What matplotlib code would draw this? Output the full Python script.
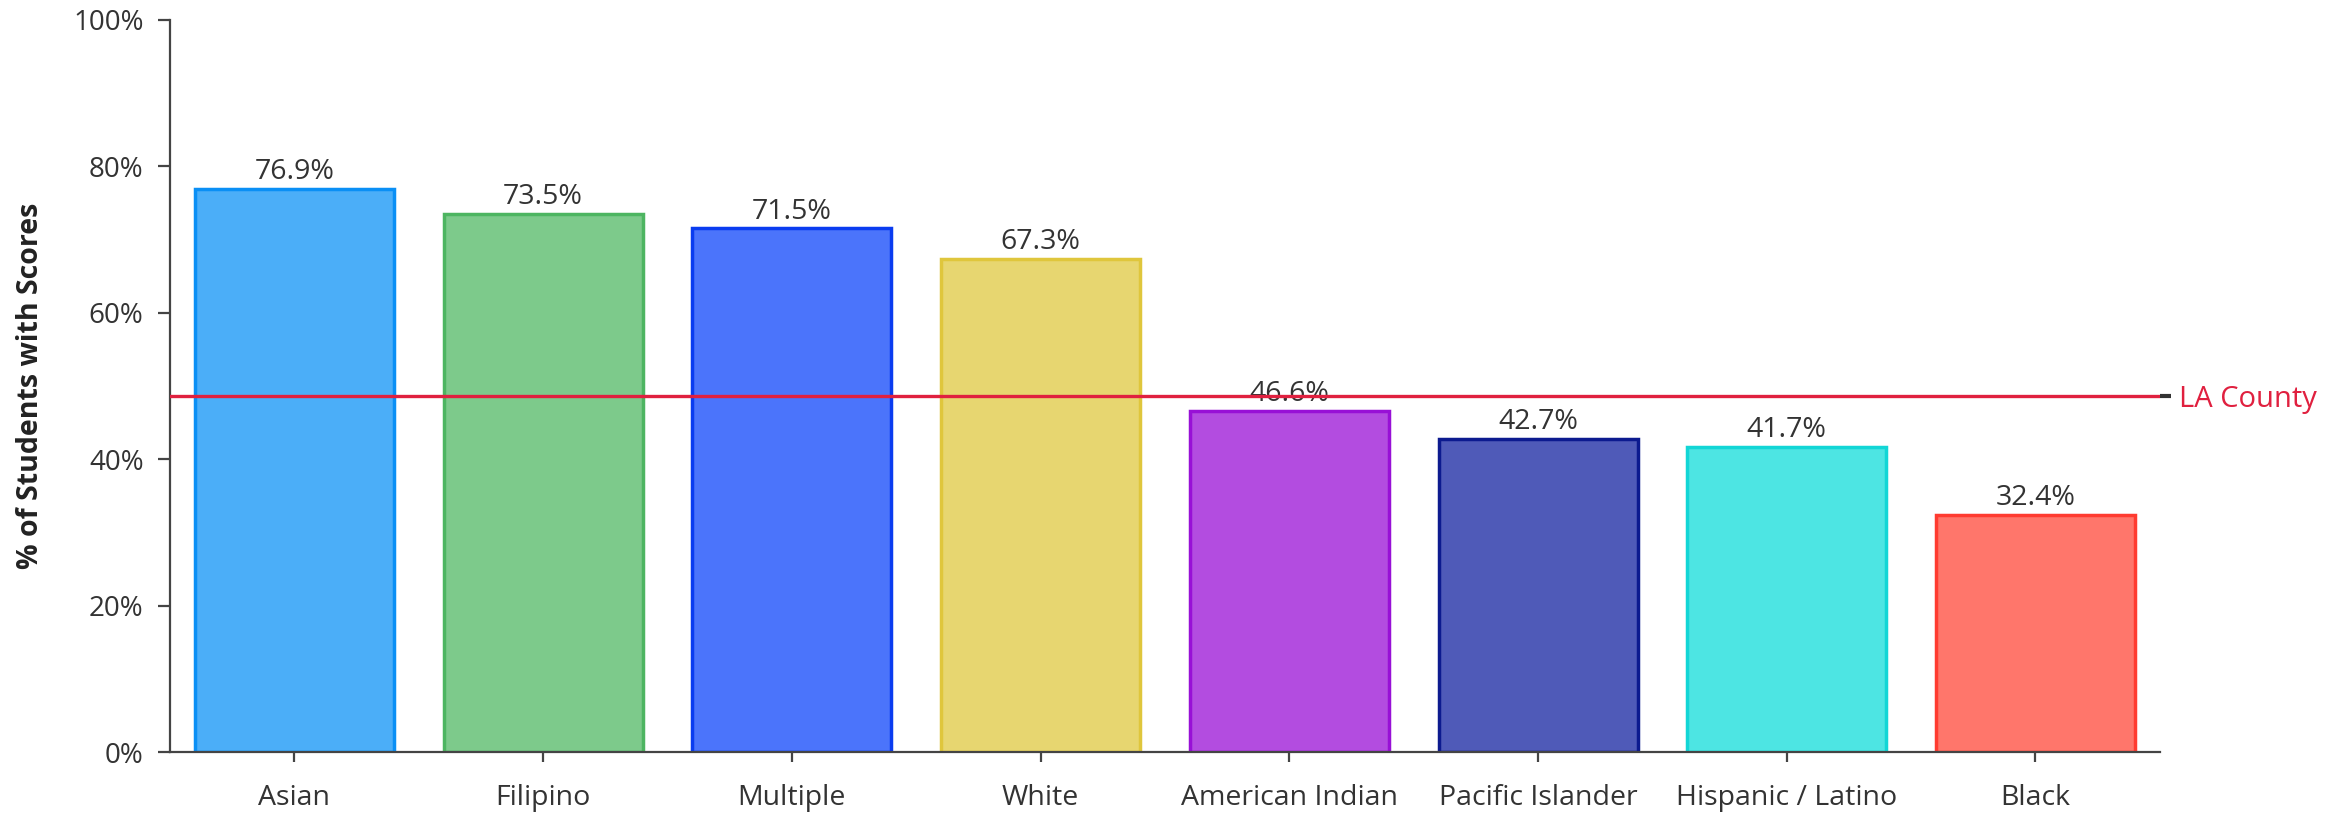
import matplotlib.pyplot as plt

# Data
groups = ["Asian", "Filipino", "Multiple", "White", "American Indian",
          "Pacific Islander", "Hispanic / Latino", "Black"]
pct = [76.9, 73.5, 71.5, 67.3, 46.6, 42.7, 41.7, 32.4]
la_county = 48.6

fill_colors = ["#4baef8", "#7dca8b", "#4b74fb", "#e7d670",
               "#b34ce0", "#4f5ab8", "#4de5e3", "#ff766b"]
edge_colors = ["#0a8ff5", "#4db561", "#0a3cf0", "#dfc63c",
               "#9810d6", "#0c1a8f", "#12d6d6", "#ff3b30"]

plt.rcParams['font.family'] = ['Open Sans', 'DejaVu Sans']
text_col = "#333333"
axis_col = "#444444"

fig = plt.figure(figsize=(23.51, 8.16), dpi=100)
ax = fig.add_axes([0.0723, 0.0784, 0.8464, 0.8976])

x = range(len(groups))
bars = ax.bar(x, pct, width=0.8, color=fill_colors, edgecolor=edge_colors,
              linewidth=2.5, zorder=2)

# value labels above each bar
for b, v in zip(bars, pct):
    ax.annotate(f"{v}%", (b.get_x() + b.get_width() / 2, v),
                xytext=(0, 2), textcoords="offset points",
                ha="center", va="bottom", fontsize=20.5, color=text_col, zorder=1)

# LA County reference line
ax.axhline(la_county, color="#e0203f", linewidth=2.4, zorder=3)

ax.set_xlim(-0.5, 7.5)
ax.set_ylim(0, 100)
ax.set_yticks([0, 20, 40, 60, 80, 100])
ax.set_yticklabels([f"{t}%" for t in [0, 20, 40, 60, 80, 100]])
ax.set_xticks(list(x))
ax.set_xticklabels(groups)

ax.spines['top'].set_visible(False)
ax.spines['right'].set_visible(False)
for s in ['left', 'bottom']:
    ax.spines[s].set_color(axis_col)
    ax.spines[s].set_linewidth(1.6)
ax.spines['bottom'].set_zorder(4)

ax.tick_params(axis='y', length=9, width=1.6, color=axis_col, pad=10,
               labelsize=20, labelcolor=text_col)
ax.tick_params(axis='x', length=7, width=1.6, color=axis_col, pad=16,
               labelsize=20.5, labelcolor=text_col)

ax.set_ylabel("% of Students with Scores", fontsize=20.5, fontweight="bold",
              color="#222222", labelpad=20)

# right-hand marker for the county line
ax2 = ax.twinx()
ax2.set_ylim(0, 100)
ax2.set_yticks([la_county])
ax2.set_yticklabels(["LA County"])
for s in ax2.spines.values():
    s.set_visible(False)
ax2.tick_params(axis='y', length=8, width=3, color="#333333", pad=6,
                labelsize=21, labelcolor="#e0203f")

fig.savefig("out.png", dpi=100)
